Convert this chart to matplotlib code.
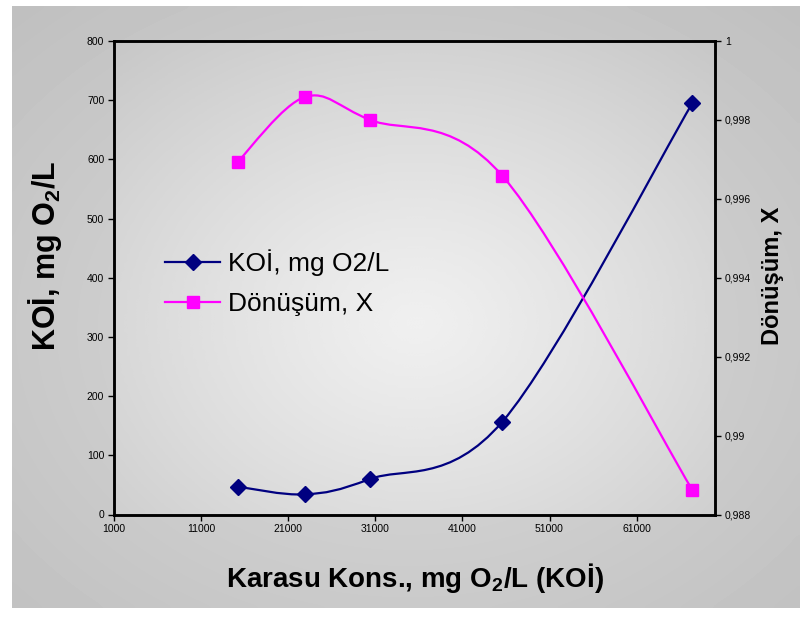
import numpy as np
import matplotlib
matplotlib.use("Agg")
import matplotlib.pyplot as plt
from matplotlib.path import Path
from matplotlib.patches import PathPatch
from matplotlib.lines import Line2D
from matplotlib.ticker import FuncFormatter

plt.rcParams['font.family'] = ['Liberation Sans', 'DejaVu Sans']
plt.rcParams['mathtext.fontset'] = 'custom'
plt.rcParams['mathtext.rm'] = 'Liberation Sans'
plt.rcParams['mathtext.bf'] = 'Liberation Sans:bold'

# data
karasu = [15200, 22900, 30400, 45600, 67400]
koi = [47, 34, 60, 157, 695]
donusum = [0.99694, 0.99858, 0.99800, 0.99658, 0.98862]

x_ticks = [1000, 11000, 21000, 31000, 41000, 51000, 61000]
y_ticks = [0, 100, 200, 300, 400, 500, 600, 700, 800]
y2_ticks = [0.988, 0.990, 0.992, 0.994, 0.996, 0.998, 1.0]

NAVY = '#000080'
PINK = '#ff00ff'


def smooth_path(xs, ys):
    # excel-like smoothed line: cubic bezier segments through the points
    pts = np.column_stack([xs, ys]).astype(float)
    ext = np.vstack([pts[0], pts, pts[-1]])
    verts = [pts[0]]
    codes = [Path.MOVETO]
    for i in range(len(pts) - 1):
        p0, p1, p2, p3 = ext[i], ext[i + 1], ext[i + 2], ext[i + 3]
        verts += [p1 + (p2 - p0) / 6, p2 - (p3 - p1) / 6, p2]
        codes += [Path.CURVE4] * 3
    return Path(verts, codes)


def radial(w, h, cx, cy, c_in, c_out, power=1.0):
    yy, xx = np.mgrid[0:h, 0:w]
    r = np.sqrt(((xx - cx) / w) ** 2 + ((yy - cy) / h) ** 2)
    r = np.clip(r / r.max(), 0, 1) ** power
    return c_in + (c_out - c_in) * r


fig = plt.figure(figsize=(8.08, 6.22), dpi=100, facecolor='white')

# outer gray chart area
bg = fig.add_axes([12 / 808, 14 / 622, 788 / 808, 602 / 622])
bg.imshow(radial(200, 150, 100, 80, 0.86, 0.75), cmap='gray', vmin=0, vmax=1,
          aspect='auto', interpolation='bicubic')
bg.axis('off')

pos = [114 / 808, 107.5 / 622, 601 / 808, 473.5 / 622]

pa = fig.add_axes(pos)
pa.imshow(radial(200, 160, 100, 95, 0.94, 0.78, 1.2), cmap='gray', vmin=0, vmax=1,
          aspect='auto', interpolation='bicubic')
pa.axis('off')

ax = fig.add_axes(pos)
ax.set_facecolor('none')
ax2 = ax.twinx()

ax.add_patch(PathPatch(smooth_path(karasu, koi), fill=False, edgecolor=NAVY, lw=1.6))
ax.plot(karasu, koi, ls='none', marker='D', ms=8, color=NAVY, mec=NAVY, zorder=5)
ax2.add_patch(PathPatch(smooth_path(karasu, donusum), fill=False, edgecolor=PINK, lw=1.6))
ax2.plot(karasu, donusum, ls='none', marker='s', ms=9, color=PINK, mec=PINK, zorder=5)

ax.set_xlim(1000, 70000)
ax.set_ylim(0, 800)
ax2.set_ylim(0.988, 1.0)
ax.set_xticks(x_ticks)
ax.set_yticks(y_ticks)
ax2.set_yticks(y2_ticks)
ax2.yaxis.set_major_formatter(FuncFormatter(lambda v, p: ('%g' % round(v, 3)).replace('.', ',')))

for a in (ax, ax2):
    for s in a.spines.values():
        s.set_linewidth(1.8)
        s.set_color('black')
    a.tick_params(length=4, width=1, labelsize=7.5, pad=3, colors='black')

fig.text(415 / 808, 1 - 578 / 622, r'Karasu Kons., mg O$_{\mathbf{2}}$/L (KOİ)',
         ha='center', va='center', fontsize=20, fontweight='bold')
fig.text(45 / 808, 1 - 256 / 622, r'KOİ, mg O$_{\mathbf{2}}$/L', rotation=90,
         ha='center', va='center', fontsize=22, fontweight='bold')
fig.text(773 / 808, 1 - 276 / 622, 'Dönüşüm, X', rotation=90,
         ha='center', va='center', fontsize=17, fontweight='bold')

handles = [Line2D([], [], color=NAVY, lw=1.6, marker='D', ms=8),
           Line2D([], [], color=PINK, lw=1.6, marker='s', ms=9)]
ax2.legend(handles, ['KOİ, mg O2/L', 'Dönüşüm, X'], loc='upper left',
           bbox_to_anchor=(0.063, 0.588), frameon=False, fontsize=19,
           handlelength=2.1, handletextpad=0.3, labelspacing=0.6, borderpad=0)

fig.savefig('out.png', dpi=100)
